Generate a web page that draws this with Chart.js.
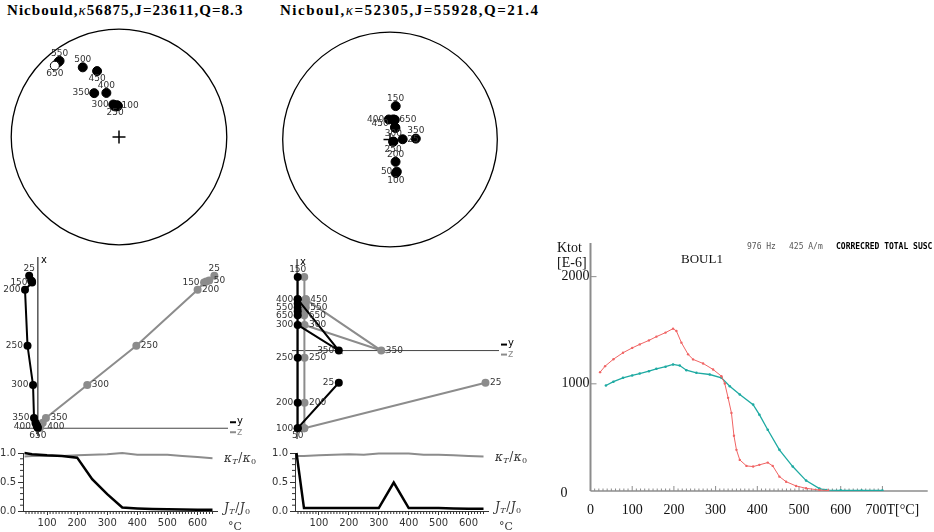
<!DOCTYPE html>
<html>
<head>
<meta charset="utf-8">
<script src="https://cdn.jsdelivr.net/npm/chart.js@4.4.1/dist/chart.umd.min.js"></script>
<style>
body { margin: 0; background: #fff; width: 934px; height: 532px; overflow: hidden; position: relative; }
canvas { position: absolute; }
.ttl { position: absolute; top: 2px; font: bold 15px "Liberation Serif", serif; letter-spacing: 1.05px; white-space: nowrap; color: #000; }
.ttl i { font-weight: normal; }
.lab { position: absolute; white-space: nowrap; line-height: 1; color: #111; }
.serif { font-family: "Liberation Serif", serif; font-size: 14px; }
.mono { font-family: "DejaVu Sans Mono", monospace; font-size: 8px; color: #555; }
</style>
</head>
<body>
<div class="ttl" style="left:7px">Nicbould,<i>κ</i>56875,J=23611,Q=8.3</div>
<div class="ttl" style="left:280px;letter-spacing:1.5px">Nicboul,<i>κ</i>=52305,J=55928,Q=21.4</div>

<canvas id="st1" width="238" height="240" style="left:0px;top:17px"></canvas>
<canvas id="st2" width="238" height="240" style="left:271px;top:20px"></canvas>
<canvas id="zij1" width="250" height="195" style="left:0px;top:250px"></canvas>
<canvas id="zij2" width="280" height="195" style="left:250px;top:250px"></canvas>
<canvas id="int1" width="262" height="87" style="left:0px;top:445px"></canvas>
<canvas id="int2" width="265" height="87" style="left:265px;top:445px"></canvas>
<canvas id="ktot" width="394" height="300" style="left:540px;top:232px"></canvas>

<div class="lab serif" style="left:557px;top:241px">Ktot</div>
<div class="lab serif" style="left:557px;top:256px">[E-6]</div>
<div class="lab serif" style="left:681px;top:252px;font-size:13px">BOUL1</div>
<div class="lab mono" style="left:747px;top:243px">976 Hz</div>
<div class="lab mono" style="left:789px;top:243px">425 A/m</div>
<div class="lab mono" style="left:836px;top:243px;color:#000;font-weight:bold">CORRECRED TOTAL SUSC</div>

<script>
// demagnetisation steps (°C)
const steps = [25, 50, 100, 150, 200, 250, 300, 350, 400, 450, 500, 550, 600, 650];

// Nicbould directions
const dec1 = [357, 358, 356.5, 355, 352, 353, 350, 330.5, 344, 341.6, 332.5, 322, 321, 318];
const inc1 = [66, 66.5, 66.2, 66.8, 66.5, 66, 65, 51.4, 55, 35.8, 28, 11.4, 11.6, -12];
// Nicboul directions
const dec2 = [88.7, 168, 170, 9.7, 166, 125, 120, 88, 356.5, 9, 22, 25.4, 12, 13.6];
const inc2 = [80.4, 65, 64, 64.2, 72.6, 87.1, 87, 70.4, 74.8, 74.6, 80, 80.4, 75, 74.6];

// Zijderveld components, Nicbould
const zx1 = [159, 154, 153, 152, 144.4, 86, 45, 10.7, 5.7, 3.5, 2.5, 1.5, 1, 0.3];
const zy1 = [-9, -7, -6, -6, -13.3, -10.7, -5, -4, -2.5, -1.5, -1, -0.5, -0.5, 0];
const zz1 = [182.3, 177, 174, 171.7, 165, 101.7, 51, 8.3, 5, 3, 2, 1.5, 1.5, 2];
// Zijderveld components, Nicboul
const zx2 = [-33.6, -81, -81, 76.7, -54.3, -7.6, 26.7, 0, 53.4, 53.4, 49, 45, 41, 36.7];
const zy2 = [43, 0.7, 0.7, 0.7, 0.7, 0.7, 0.7, 43, 0.7, 0.7, 0.7, 0.7, 0.7, 0.7];
const zz2 = [194, 7.4, 7.4, 7.4, 7.7, 7.7, 7.7, 86.7, 9, 9, 9, 9, 8, 7.4];

// normalised intensity and susceptibility
const j1 = [1.0, 0.98, 0.96, 0.95, 0.92, 0.55, 0.29, 0.06, 0.045, 0.035, 0.03, 0.025, 0.02, 0.02];
const k1 = [0.94, 0.95, 0.95, 0.95, 0.96, 0.97, 0.98, 1.0, 0.97, 0.97, 0.97, 0.95, 0.93, 0.91];
const j2 = [1.0, 0.05, 0.05, 0.05, 0.05, 0.05, 0.05, 0.49, 0.05, 0.05, 0.05, 0.045, 0.04, 0.04];
const k2 = [0.95, 0.95, 0.96, 0.97, 0.98, 0.97, 0.99, 0.99, 0.99, 0.97, 0.97, 0.96, 0.95, 0.94];

// BOUL1 susceptibility vs temperature
const heatT = [23, 35, 55, 78, 100, 118, 140, 158, 180, 198, 206, 218, 234, 246, 270, 294, 314, 322, 330, 338, 344, 350, 358, 374, 390, 405, 425, 437, 453, 469, 493, 517, 549, 570];
const heatK = [1109, 1165, 1230, 1290, 1335, 1368, 1405, 1440, 1478, 1515, 1493, 1384, 1275, 1228, 1190, 1134, 1071, 1003, 869, 728, 515, 384, 290, 234, 228, 244, 265, 234, 134, 87, 47, 25, 9, 4];
const coolT = [37, 55, 78, 100, 118, 140, 158, 180, 198, 214, 230, 254, 286, 314, 334, 358, 390, 405, 425, 453, 485, 517, 549, 565, 600, 650, 700];
const coolK = [984, 1020, 1056, 1078, 1096, 1118, 1140, 1160, 1181, 1171, 1127, 1103, 1087, 1056, 978, 900, 806, 712, 572, 384, 228, 97, 22, 9, 6, 5, 5];
const kLabels = [0, 1000, 2000];
const tLabels = [0, 100, 200, 300, 400, 500, 600, 700];

// where the step label goes next to each point
const place1 = ['', '', 'r', '', '', 'b', 'l', 'l', 't', 'b', 't', 't', '', 'b'];
const place2 = ['r', 'l', 'b', 't', 't', 'b', 't', 't', 'l', 'lb', '', '', '', 'r'];
const placeB1 = ['t', '', '', 'l', 'l', 'l', 'l', 'l', 'lb', '', '', '', '', 'b'];
const placeG1 = ['t', 'r', '', 'l', 'r', 'r', 'r', 'r', 'rb', '', '', '', '', ''];
const placeB2 = ['l', 'b', 'l', 't', 'l', 'l', 'l', 'l', 'l', '', '', 'l', '', 'l'];
const placeG2 = ['r', '', '', '', 'r', 'r', 'r', 'r', '', 'r', '', 'r', '', 'r'];

Chart.defaults.animation = false;
Chart.defaults.responsive = false;
Chart.defaults.plugins.legend.display = false;
Chart.defaults.plugins.tooltip.enabled = false;

const GRAY = '#8c8c8c';

function proj(dec, inc) {
    const r = Math.SQRT2 * Math.sin((90 - Math.abs(inc)) / 2 * Math.PI / 180);
    return { x: r * Math.sin(dec * Math.PI / 180), y: r * Math.cos(dec * Math.PI / 180) };
}

function bare(xmin, xmax, ymin, ymax) {
    return {
        x: { type: 'linear', display: false, min: xmin, max: xmax },
        y: { type: 'linear', display: false, min: ymin, max: ymax }
    };
}

function line(ctx, x1, y1, x2, y2) {
    ctx.beginPath(); ctx.moveTo(x1, y1); ctx.lineTo(x2, y2); ctx.stroke();
}

const stepLabels = {
    id: 'stepLabels',
    afterDatasetsDraw(chart) {
        const ctx = chart.ctx;
        ctx.save();
        ctx.font = '9px "DejaVu Sans"';
        ctx.fillStyle = '#333';
        ctx.textBaseline = 'middle';
        chart.data.datasets.forEach((ds, di) => {
            if (!ds.tags) return;
            chart.getDatasetMeta(di).data.forEach((pt, i) => {
                const p = ds.tags[i];
                if (!p) return;
                let x = pt.x, y = pt.y;
                ctx.textAlign = 'center';
                if (p[0] === 'l') { x -= 4.5; ctx.textAlign = 'right'; }
                if (p[0] === 'r') { x += 4.5; ctx.textAlign = 'left'; }
                if (p[0] === 't') y -= 7.5;
                if (p[0] === 'b') y += 7.5;
                if (p[1] === 'b') y += 4;
                ctx.fillText(String(steps[i]), x, y);
            });
        });
        ctx.restore();
    }
};

const net = {
    id: 'net',
    beforeDatasetsDraw(chart) {
        const { ctx, scales: { x, y } } = chart;
        const cx = x.getPixelForValue(0), cy = y.getPixelForValue(0);
        const r = x.getPixelForValue(1) - cx;
        ctx.save();
        ctx.strokeStyle = '#000';
        ctx.lineWidth = 1.3;
        ctx.beginPath(); ctx.arc(cx, cy, r, 0, Math.PI * 2); ctx.stroke();
        ctx.lineWidth = 1.5;
        line(ctx, cx - 6.5, cy, cx + 6.5, cy);
        line(ctx, cx, cy - 6.5, cx, cy + 6.5);
        ctx.restore();
    }
};

function stereo(id, dec, inc, tags, xr, ylo, yhi) {
    new Chart(document.getElementById(id), {
        type: 'scatter',
        data: {
            datasets: [{
                data: dec.map((d, i) => proj(d, inc[i])),
                pointRadius: 4.5,
                pointBackgroundColor: inc.map(v => v < 0 ? '#fff' : '#000'),
                pointBorderColor: '#000',
                pointBorderWidth: 1,
                tags: tags
            }]
        },
        options: { scales: bare(-xr, xr, ylo, yhi) },
        plugins: [net, stepLabels]
    });
}

stereo('st1', dec1, inc1, place1, 119 / 113, -120 / 113, 120 / 113);
stereo('st2', dec2, inc2, place2, 119 / 112.5, -120.5 / 112.5, 119.5 / 112.5);

function zijAxes(opt) {
    return {
        id: 'zijAxes',
        beforeDatasetsDraw(chart) {
            const { ctx, scales: { x, y }, chartArea: a } = chart;
            const ox = x.getPixelForValue(0), oy = y.getPixelForValue(0);
            ctx.save();
            ctx.lineWidth = 1;
            ctx.strokeStyle = '#000';
            line(ctx, ox, a.top + opt.top, ox, a.bottom - opt.bottom);
            ctx.strokeStyle = '#444';
            line(ctx, a.left + opt.left, oy, a.right - opt.right, oy);
            const ex = a.right - opt.right;
            ctx.lineWidth = 2;
            ctx.strokeStyle = '#000';
            line(ctx, ex + 2, oy - 6, ex + 8, oy - 6);
            ctx.strokeStyle = GRAY;
            line(ctx, ex + 2, oy + 4, ex + 8, oy + 4);
            ctx.font = '10px "DejaVu Sans"';
            ctx.textBaseline = 'middle';
            ctx.textAlign = 'left';
            ctx.fillStyle = '#000';
            ctx.fillText('y', ex + 9, oy - 7);
            ctx.fillText('x', ox + 3, a.top + opt.top + 3);
            ctx.fillStyle = GRAY;
            ctx.fillText('z', ex + 9, oy + 4);
            ctx.restore();
        }
    };
}

function zij(id, zx, zy, zz, tb, tg, sc, opt) {
    new Chart(document.getElementById(id), {
        type: 'scatter',
        data: {
            datasets: [{
                data: zx.map((v, i) => ({ x: zy[i], y: v })),
                showLine: true, borderColor: '#000', borderWidth: 2,
                pointRadius: 4, pointBackgroundColor: '#000', pointBorderWidth: 0,
                tags: tb
            }, {
                data: zx.map((v, i) => ({ x: zz[i], y: v })),
                showLine: true, borderColor: GRAY, borderWidth: 2,
                pointRadius: 4, pointBackgroundColor: GRAY, pointBorderWidth: 0,
                tags: tg
            }]
        },
        options: { scales: sc },
        plugins: [zijAxes(opt), stepLabels]
    });
}

zij('zij1', zx1, zy1, zz1, placeB1, placeG1, bare(-35, 215, -13.3, 181.7), { top: 3, bottom: 5, left: 15, right: 18 });
zij('zij2', zx2, zy2, zz2, placeB2, placeG2, bare(-44.3, 235.7, -94.3, 100.7), { top: 5, bottom: 2, left: 38, right: 27 });

function mathLabel(ctx, x, y, sym) {
    const parts = [
        [sym, 'italic 12px "DejaVu Serif"', 0],
        ['T', 'italic 8px "DejaVu Serif"', 3],
        ['/', '12px "DejaVu Serif"', 0],
        [sym, 'italic 12px "DejaVu Serif"', 0],
        ['0', '8px "DejaVu Serif"', 3]
    ];
    parts.forEach(([s, f, dy]) => {
        ctx.font = f;
        ctx.fillText(s, x, y + dy);
        x += ctx.measureText(s).width + 0.5;
    });
}

const intDeco = {
    id: 'intDeco',
    afterDraw(chart) {
        const { ctx, scales: { x, y }, chartArea: a } = chart;
        ctx.save();
        ctx.strokeStyle = '#333';
        ctx.lineWidth = 1;
        for (let t = 30; t <= 650; t += 10) {
            if (t % 100 === 0) continue;
            const px = x.getPixelForValue(t);
            line(ctx, px, a.bottom, px, a.bottom + 3);
        }
        for (let v = 1; v < 10; v++) {
            if (v === 5) continue;
            const py = y.getPixelForValue(v / 10);
            line(ctx, a.left - 3, py, a.left, py);
        }
        ctx.fillStyle = '#333';
        ctx.textBaseline = 'middle';
        ctx.textAlign = 'left';
        const ds = chart.data.datasets;
        const kEnd = ds[1].data[ds[1].data.length - 1].y;
        const jEnd = ds[0].data[ds[0].data.length - 1].y;
        mathLabel(ctx, a.right + 7, y.getPixelForValue(kEnd) + 1, 'κ');
        mathLabel(ctx, a.right + 7, y.getPixelForValue(jEnd) - 1, 'J');
        ctx.font = '11px "DejaVu Serif"';
        ctx.fillText('°C', a.right + 11, a.bottom + 16);
        ctx.restore();
    }
};

function intensity(id, jv, kv, yw, padR) {
    new Chart(document.getElementById(id), {
        type: 'scatter',
        data: {
            datasets: [{
                data: steps.map((t, i) => ({ x: t, y: jv[i] })),
                showLine: true, borderColor: '#000', borderWidth: 2.5, pointRadius: 0, clip: false
            }, {
                data: steps.map((t, i) => ({ x: t, y: kv[i] })),
                showLine: true, borderColor: GRAY, borderWidth: 2, pointRadius: 0, clip: false
            }]
        },
        options: {
            layout: { padding: { top: 8, right: padR, left: 0, bottom: 0 } },
            scales: {
                x: {
                    type: 'linear', min: 20, max: 665,
                    afterFit: s => { s.height = 21; },
                    grid: { drawOnChartArea: false, tickLength: 4, color: '#333' },
                    border: { color: '#333', width: 1 },
                    ticks: {
                        stepSize: 100, includeBounds: false, autoSkip: false, maxRotation: 0, padding: 2,
                        color: '#333', font: { family: 'DejaVu Sans', size: 10 },
                        callback: v => v % 100 === 0 ? String(v) : ''
                    }
                },
                y: {
                    type: 'linear', min: 0, max: 1,
                    afterFit: s => { s.width = yw; },
                    grid: { drawOnChartArea: false, tickLength: 5, color: '#333' },
                    border: { color: '#333', width: 1 },
                    ticks: {
                        stepSize: 0.5, padding: 2, color: '#333', font: { family: 'DejaVu Sans', size: 10 },
                        callback: v => v.toFixed(1)
                    }
                }
            }
        },
        plugins: [intDeco]
    });
}

intensity('int1', j1, k1, 23, 45);
intensity('int2', j2, k2, 30, 42);

const ktotAxes = {
    id: 'ktotAxes',
    beforeDatasetsDraw(chart) {
        const { ctx, scales: { x, y }, chartArea: a } = chart;
        const x0 = x.getPixelForValue(0), y0 = y.getPixelForValue(0);
        ctx.save();
        ctx.strokeStyle = GRAY;
        ctx.lineWidth = 2;
        line(ctx, x0, a.top, x0, y0);
        ctx.lineWidth = 1.5;
        line(ctx, x0, y0, a.right, y0);
        ctx.lineWidth = 1;
        for (let t = 10; t <= 700; t += 10) {
            const px = x.getPixelForValue(t);
            line(ctx, px, y0, px, y0 - (t % 100 === 0 ? 5 : 2.5));
        }
        kLabels.forEach(v => {
            if (v === 0) return;
            const py = y.getPixelForValue(v);
            line(ctx, x0, py, x0 + 6, py);
        });
        ctx.fillStyle = '#111';
        ctx.font = '14px "Liberation Serif"';
        ctx.textBaseline = 'middle';
        ctx.textAlign = 'left';
        kLabels.forEach(v => {
            const py = y.getPixelForValue(v);
            ctx.fillText(String(v), v === 0 ? x0 - 30 : x0 - 29, v === 0 ? py + 2 : py);
        });
        tLabels.forEach(t => {
            const px = x.getPixelForValue(t);
            if (t === 700) {
                ctx.textAlign = 'right';
                ctx.fillText(String(t), px + 4, y0 + 19);
                ctx.textAlign = 'left';
                ctx.fillText('T[°C]', px + 4, y0 + 19);
            } else {
                ctx.textAlign = 'center';
                ctx.fillText(String(t), px, y0 + 19);
            }
        });
        ctx.restore();
    }
};

new Chart(document.getElementById('ktot'), {
    type: 'scatter',
    data: {
        datasets: [{
            data: heatT.map((t, i) => ({ x: t, y: heatK[i] })),
            showLine: true, borderColor: '#f06464', borderWidth: 1,
            pointRadius: 1.2, pointBackgroundColor: '#f06464', pointBorderWidth: 0
        }, {
            data: coolT.map((t, i) => ({ x: t, y: coolK[i] })),
            showLine: true, borderColor: '#1eaaa2', borderWidth: 1.3,
            pointRadius: 1.3, pointBackgroundColor: '#1eaaa2', pointBorderWidth: 0
        }]
    },
    options: {
        layout: { padding: { left: 50.5, right: 6.3, top: 11, bottom: 41 } },
        scales: bare(0, 808.6, 0, 2314)
    },
    plugins: [ktotAxes]
});
</script>
</body>
</html>
